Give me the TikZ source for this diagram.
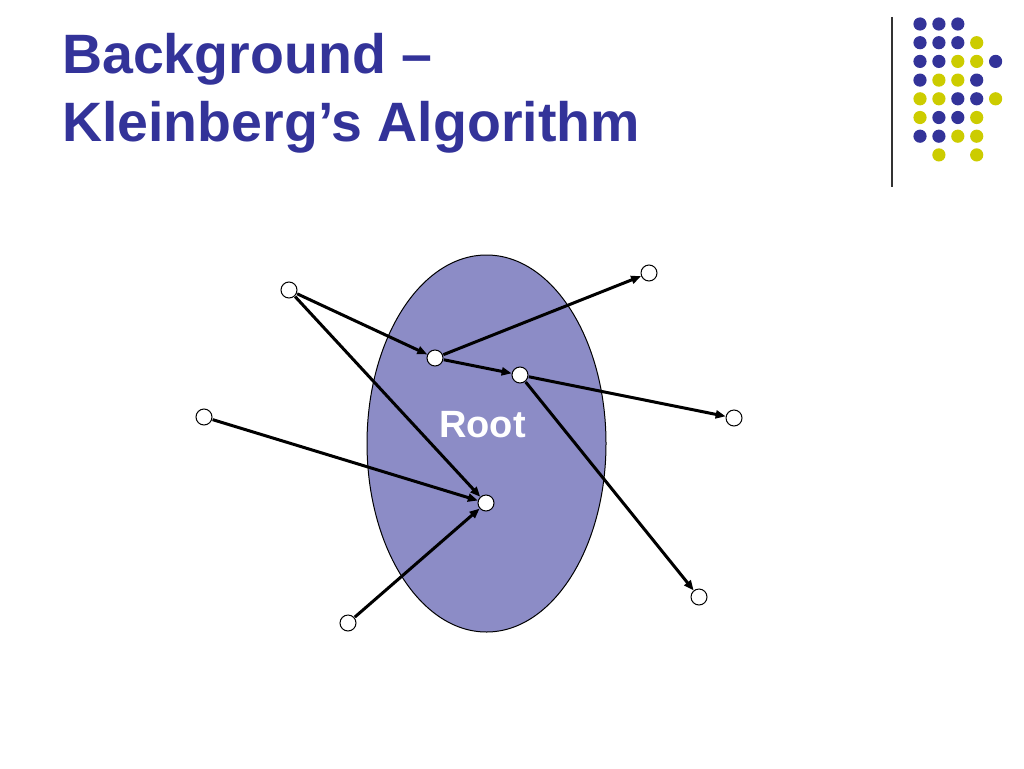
\documentclass[tikz,border=0pt]{standalone}
\usepackage{fontspec}
\setmainfont{Liberation Sans}
\usetikzlibrary{arrows.meta}
\definecolor{titleblue}{HTML}{333399}
\definecolor{dotblue}{HTML}{333399}
\definecolor{dotyellow}{HTML}{CCCC00}
\definecolor{rootfill}{HTML}{8C8CC6}
\tikzset{
  vnode/.style={circle, draw=black, line width=1pt, fill=white, minimum size=16pt, inner sep=0pt},
  link/.style={line width=3pt, -{Triangle[length=10pt,width=8pt]}, shorten <=0.5pt},
  bdot/.style={fill=dotblue},
  ydot/.style={fill=dotyellow},
  titletext/.style={anchor=base west, inner sep=0pt, text=titleblue, font=\fontsize{55.5}{62}\selectfont\bfseries}
}
\begin{document}
\begin{tikzpicture}[x=1pt,y=-1pt]
\useasboundingbox (0,0) rectangle (1024,768);
% title
\node[titletext] (title1) at (62,73) {Background –};
\node[titletext] (title2) at (62,141) {Kleinberg’s Algorithm};
% decoration
\draw[line width=1.3pt, color=black!80] (892,17) -- (892,187);
\foreach \c/\r in {0/0,1/0,2/0,0/1,1/1,2/1,0/2,1/2,4/2,0/3,3/3,2/4,3/4,1/5,2/5,0/6,1/6}
  \fill[bdot] ({920+18.9*\c},{24+18.7*\r}) circle (6.6);
\foreach \c/\r in {3/1,2/2,3/2,1/3,2/3,0/4,1/4,4/4,0/5,3/5,2/6,3/6,1/7,3/7}
  \fill[ydot] ({920+18.9*\c},{24+18.7*\r}) circle (6.6);
% root ellipse
\draw[fill=rootfill, line width=1pt] (486.5,443.5) ellipse [x radius=119.5, y radius=188.5];
\node[anchor=base, inner sep=0pt, text=white, font=\fontsize{38}{44}\selectfont\bfseries] (rootlabel) at (482.5,437) {Root};
% vertices
\node[vnode] (a) at (289,290) {};
\node[vnode] (b) at (435,358) {};
\node[vnode] (c) at (520,375) {};
\node[vnode] (d) at (649,273) {};
\node[vnode] (e) at (734,418) {};
\node[vnode] (f) at (204,417) {};
\node[vnode] (g) at (486,503) {};
\node[vnode] (h) at (348,623) {};
\node[vnode] (i) at (699,597) {};
% links
\draw[link] (a) -- (b);
\draw[link] (a) -- (g);
\draw[link] (f) -- (g);
\draw[link] (h) -- (g);
\draw[link] (b) -- (d);
\draw[link] (b) -- (c);
\draw[link] (c) -- (e);
\draw[link] (c) -- (i);
\end{tikzpicture}
\end{document}
